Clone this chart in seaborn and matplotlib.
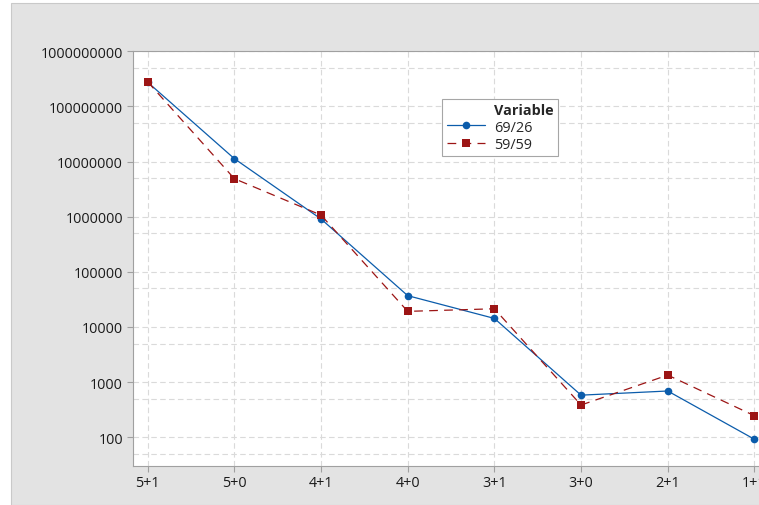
import pandas as pd
import matplotlib
matplotlib.use("Agg")
import matplotlib.pyplot as plt
import seaborn as sns
from matplotlib.lines import Line2D
from matplotlib.patches import Rectangle
from matplotlib.ticker import FixedLocator, FuncFormatter, NullFormatter

# data
combos = ["5+1", "5+0", "4+1", "4+0", "3+1", "3+0", "2+1", "1+1"]
v6926 = [2.75e8, 1.13e7, 9.1e5, 3.7e4, 1.43e4, 580, 690, 92]
v5959 = [2.8e8, 4.9e6, 1.07e6, 1.92e4, 2.14e4, 384, 1340, 246]
series_names = ["69/26", "59/59"]
yticks = [10**k for k in range(2, 10)]
yminor = [5 * 10**k for k in range(1, 9)]

df = pd.DataFrame({
    "combo": combos * 2,
    "value": v6926 + v5959,
    "Variable": [series_names[0]] * len(combos) + [series_names[1]] * len(combos),
})

sns.set_style("white")
plt.rcParams["font.family"] = ["Open Sans", "DejaVu Sans"]

blue = "#0b5cab"
red = "#9c1515"
grid_c = "#dadada"
spine_c = "#a0a0a0"
fs = 10.4

fig = plt.figure(figsize=(7.59, 5.06), dpi=100)
fig.patch.set_facecolor("white")
fig.add_artist(Rectangle((11 / 759, 0), 1, 1 - 4 / 506, transform=fig.transFigure,
                         facecolor="#e3e3e3", edgecolor="#c9c9c9", lw=0.8, zorder=0))
ax = fig.add_axes([0.1748, 0.0777, 0.842, 0.8189])
ax.set_facecolor("white")
ax.set_yscale("log")

sns.lineplot(data=df, x="combo", y="value", hue="Variable", style="Variable",
             palette=[blue, red], markers={"69/26": "o", "59/59": "s"},
             dashes={"69/26": "", "59/59": (7, 5)}, markersize=5.5,
             markeredgewidth=0, linewidth=0.9, sort=False, legend=False, ax=ax)

ax.set_xticks(range(len(combos)))
ax.set_xticklabels(combos)
ax.set_xlim(-0.173, 7.2)
ax.set_ylim(30.5, 1e9)
ax.yaxis.set_major_locator(FixedLocator(yticks))
ax.yaxis.set_major_formatter(FuncFormatter(lambda v, p: f"{int(round(v))}"))
ax.yaxis.set_minor_locator(FixedLocator(yminor))
ax.yaxis.set_minor_formatter(NullFormatter())
ax.set_xlabel("")
ax.set_ylabel("")

ax.grid(True, which="major", axis="both", color=grid_c, linestyle=(0, (5, 3)), linewidth=0.8)
ax.grid(True, which="minor", axis="y", color=grid_c, linestyle=(0, (5, 3)), linewidth=0.8)
ax.set_axisbelow(True)
for s in ax.spines.values():
    s.set_color(spine_c)
    s.set_linewidth(0.8)
ax.tick_params(which="major", direction="out", length=4, width=0.8, color=spine_c,
               labelsize=fs, labelcolor="#1a1a1a", pad=3, left=True, bottom=True)
ax.tick_params(which="minor", length=0)

handles = [
    Line2D([], [], linestyle="none"),
    Line2D([], [], color=blue, marker="o", markersize=5.5, markeredgewidth=0, lw=0.9),
    Line2D([], [], color=red, marker="s", markersize=5.5, markeredgewidth=0, lw=0.9,
           linestyle=(0, (7, 5))),
]
labels = ["Variable"] + series_names
leg = fig.legend(handles, labels, loc="upper left", bbox_to_anchor=(442.3 / 759, 1 - 100 / 506),
                 frameon=True, fancybox=False, edgecolor="#a6a6a6", framealpha=1,
                 borderpad=0.3, handlelength=2.66, handletextpad=0.6, labelspacing=0.15,
                 borderaxespad=0, fontsize=fs)
leg.get_frame().set_linewidth(0.8)
leg.get_texts()[0].set_fontweight("bold")

fig.savefig("out.png", dpi=100)
